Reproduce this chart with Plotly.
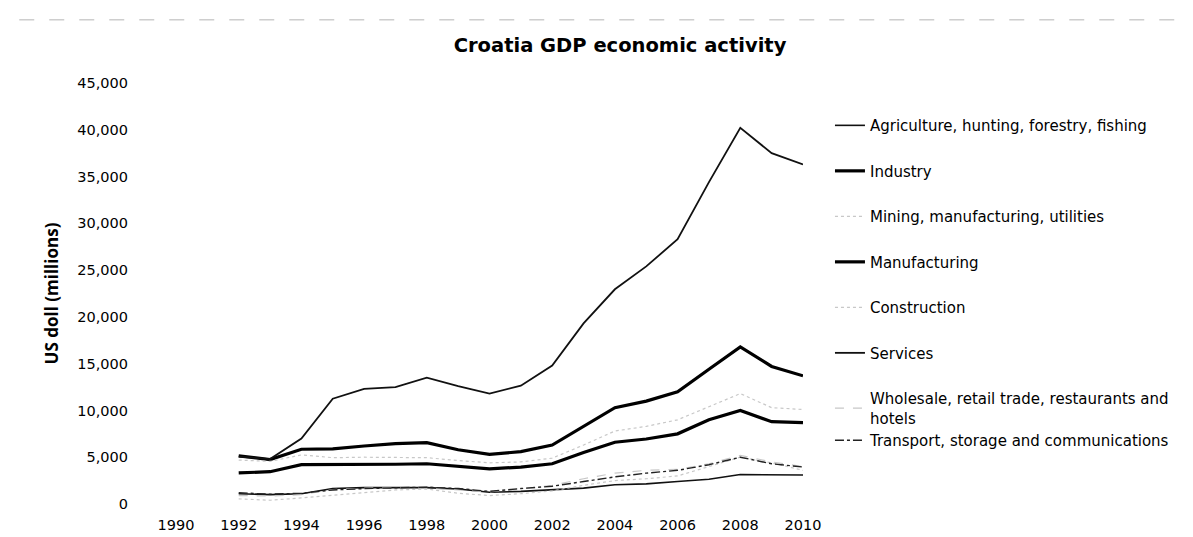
import plotly.graph_objects as go

years = list(range(1992, 2011))

agriculture = [1100, 1000, 1100, 1650, 1750, 1750, 1750, 1600, 1250, 1350, 1550, 1700, 2050, 2150, 2400, 2650, 3150, 3100, 3100]
industry = [5150, 4750, 5850, 5900, 6200, 6450, 6550, 5800, 5300, 5600, 6300, 8300, 10300, 11000, 12000, 14400, 16800, 14700, 13700]
mining = [4700, 4550, 5250, 4950, 5000, 4950, 4950, 4650, 4400, 4500, 4900, 6300, 7800, 8300, 9000, 10400, 11800, 10300, 10100]
manufacturing = [3320, 3450, 4200, 4200, 4250, 4250, 4300, 4000, 3750, 3950, 4300, 5500, 6600, 6950, 7500, 9000, 10000, 8800, 8700]
construction = [550, 400, 650, 950, 1200, 1500, 1600, 1150, 900, 1100, 1400, 2000, 2500, 2700, 3000, 4000, 5000, 4400, 3600]
services = [5070, 4800, 7000, 11250, 12300, 12500, 13500, 12600, 11800, 12650, 14800, 19300, 22950, 25400, 28300, 34400, 40200, 37500, 36300]
wholesale = [900, 850, 1000, 1550, 1700, 1750, 1700, 1500, 1300, 1600, 2000, 2700, 3300, 3600, 3700, 4300, 5200, 4500, 4000]
transport = [1200, 1050, 1150, 1500, 1650, 1700, 1800, 1650, 1350, 1650, 1900, 2400, 2900, 3300, 3600, 4200, 5000, 4300, 3950]

series_names = [
    "Agriculture, hunting, forestry, fishing",
    "Industry",
    "Mining, manufacturing, utilities",
    "Manufacturing",
    "Construction",
    "Services",
    "Wholesale, retail trade, restaurants and<br>hotels",
    "Transport, storage and communications",
]
series_values = [agriculture, industry, mining, manufacturing, construction, services, wholesale, transport]
styles = [
    dict(color="#111111", width=1.6, dash="solid"),
    dict(color="#000000", width=3.2, dash="solid"),
    dict(color="#c8c8c8", width=1.2, dash="dot"),
    dict(color="#000000", width=3.2, dash="solid"),
    dict(color="#c8c8c8", width=1.2, dash="dot"),
    dict(color="#111111", width=1.8, dash="solid"),
    dict(color="#c8c8c8", width=1.2, dash="dash"),
    dict(color="#222222", width=1.4, dash="dashdot"),
]
legend_ids = ["legend"] * 7 + ["legend2"]

fig = go.Figure()
for i, (name, vals, st, lg) in enumerate(zip(series_names, series_values, styles, legend_ids)):
    fig.add_trace(go.Scatter(
        x=years, y=vals, mode="lines", name=name,
        line=st, legendgroup=f"g{i}", legend=lg,
    ))

wide_font = "DejaVu Sans, Verdana, sans-serif"
bold_font = "Open Sans, Lato, sans-serif"

legend_common = dict(font=dict(family=wide_font, size=15, color="black"),
                     bgcolor="rgba(0,0,0,0)", xanchor="left", yanchor="top")

fig.update_layout(
    width=1193, height=537,
    paper_bgcolor="white", plot_bgcolor="white",
    margin=dict(l=168, r=398, t=75, b=30),
    title=dict(text="<b>Croatia GDP economic activity</b>", x=0.513, xanchor="center",
               y=0.93, yanchor="middle", font=dict(family=wide_font, size=19.5, color="black")),
    font=dict(family=wide_font, color="black"),
    showlegend=True,
    legend=dict(x=1.043, y=0.938, tracegroupgap=23, **legend_common),
    legend2=dict(x=1.043, y=0.19, **legend_common),
    xaxis=dict(range=[1990, 2010], tickmode="array", tickvals=list(range(1990, 2011, 2)),
               showgrid=False, zeroline=False, showline=False,
               tickfont=dict(family=wide_font, size=14.5, color="black"),
               ticklabelstandoff=10),
    yaxis=dict(range=[0, 45000], tickmode="array", tickvals=list(range(0, 45001, 5000)),
               tickformat=",d", showgrid=False, zeroline=False, showline=False,
               tickfont=dict(family=wide_font, size=14.5, color="black"),
               ticklabelstandoff=47,
               title=dict(text="<b>US doll (millions)</b>", standoff=14,
                          font=dict(family=bold_font, size=17, color="black"))),
    shapes=[dict(type="line", xref="paper", yref="paper", x0=-0.25, x1=1.63, y0=1.15, y1=1.15,
                 line=dict(color="#b4b4b4", width=1, dash="longdash"))],
)

fig.write_html("out.html")
